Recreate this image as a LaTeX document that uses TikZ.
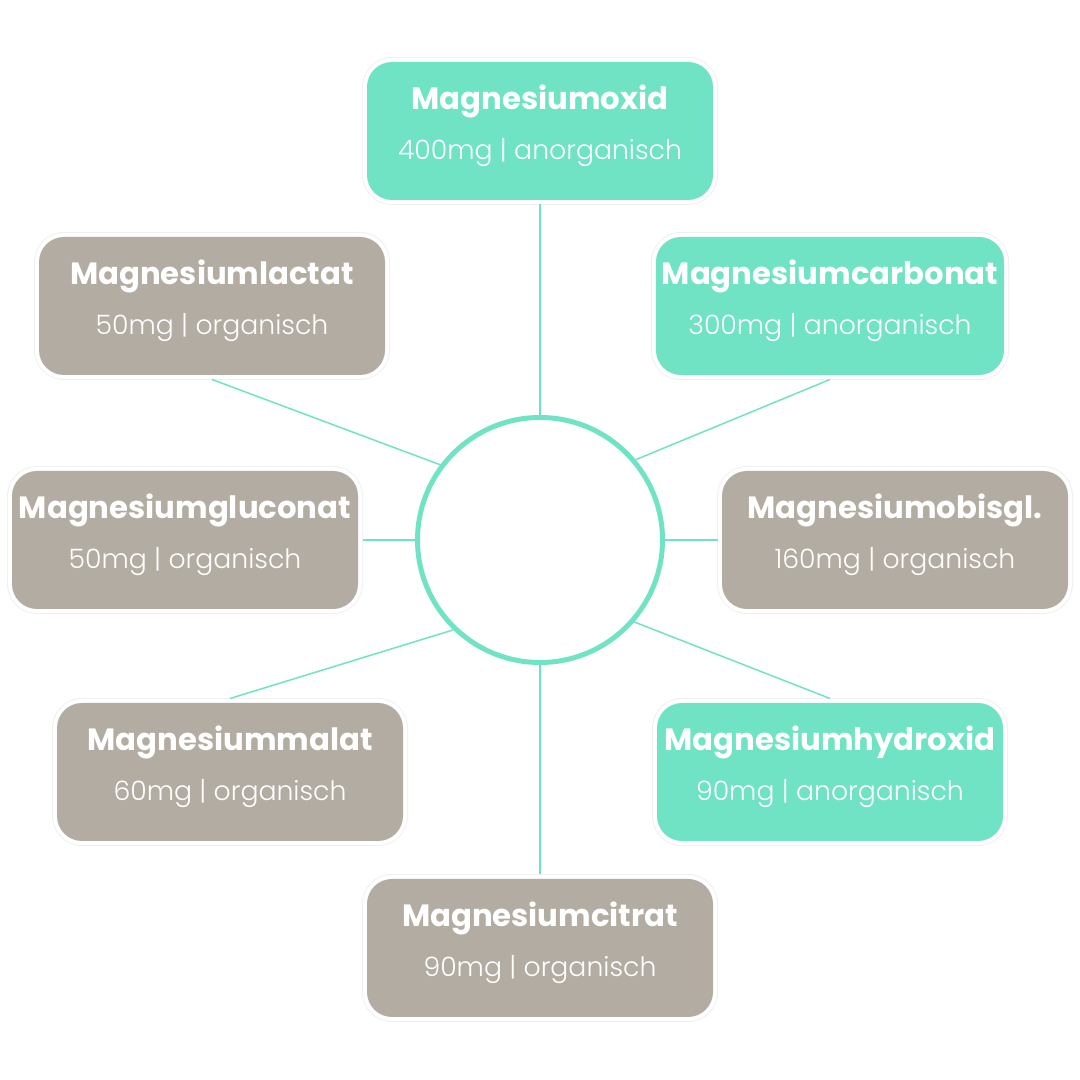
\documentclass[tikz,border=0pt]{standalone}
\usepackage{fontspec}
\setmainfont{Poppins}
\newfontfamily\lightfont{Poppins Light}
\definecolor{mgteal}{RGB}{111,227,196}
\definecolor{mggray}{RGB}{179,172,162}
\begin{document}
\begin{tikzpicture}[
  salt/.style={rounded corners=0.5cm, align=center, text=white, minimum width=6.92cm, minimum height=2.76cm, outer sep=0.09cm,
    preaction={draw=black!6, line width=0.2cm}, preaction={draw=white, line width=0.16cm}},
  anorg/.style={salt, fill=mgteal},
  org/.style={salt, fill=mggray},
  link/.style={draw=mgteal, line width=0.85pt}
]
\useasboundingbox (0,0) rectangle (21.6,21.6);
\newcommand{\salttext}[2]{{\fontsize{17.5}{18}\selectfont\bfseries #1}\\[0.36cm]{\lightfont\fontsize{15.2}{18}\selectfont #2\rule[-0.35cm]{0pt}{0pt}}}

\node[circle, draw=mgteal, line width=0.1cm, minimum size=4.9cm, align=center, text=white, font=\bfseries\fontsize{15}{22}\selectfont] (ring) at (10.8,10.8) {8-Fach\\Komplex};

\node[anorg] (oxid) at (10.8,18.98) {\salttext{Magnesiumoxid}{400mg | anorganisch}};
\node[org] (lactat) at (4.24,15.48) {\salttext{Magnesiumlactat}{50mg | organisch}};
\node[anorg] (carbonat) at (16.6,15.48) {\salttext{Magnesiumcarbonat}{300mg | anorganisch}};
\node[org] (gluconat) at (3.7,10.8) {\salttext{Magnesiumgluconat}{50mg | organisch}};
\node[org] (bisgl) at (17.9,10.8) {\salttext{Magnesiumobisgl.}{160mg | organisch}};
\node[org] (malat) at (4.6,6.16) {\salttext{Magnesiummalat}{60mg | organisch}};
\node[anorg] (hydroxid) at (16.6,6.16) {\salttext{Magnesiumhydroxid}{90mg | anorganisch}};
\node[org] (citrat) at (10.8,2.64) {\salttext{Magnesiumcitrat}{90mg | organisch}};

\draw[link] (oxid.south) -- (ring.90);
\draw[link] (lactat.south) -- (ring.143);
\draw[link] (carbonat.south) -- (ring.40);
\draw[link] (gluconat.east) -- (ring.180);
\draw[link] (bisgl.west) -- (ring.0);
\draw[link] (malat.north) -- (ring.226);
\draw[link] (hydroxid.north) -- (ring.319);
\draw[link] (citrat.north) -- (ring.270);
\end{tikzpicture}
\end{document}
